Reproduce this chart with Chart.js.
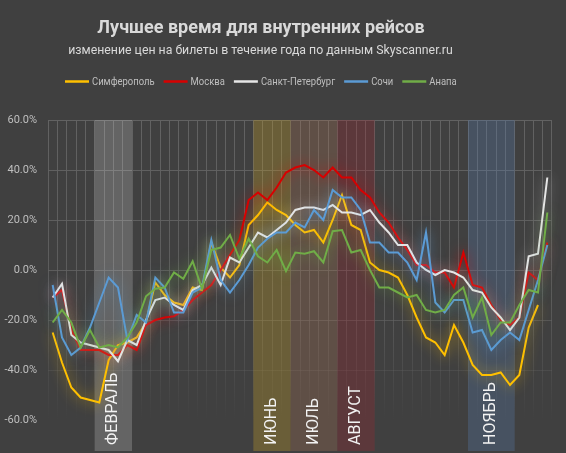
<!DOCTYPE html>
<html>
<head>
<meta charset="utf-8">
<script src="https://cdn.jsdelivr.net/npm/chart.js@4"></script>
<style>
    html, body { margin: 0; padding: 0; background: #404040; }
    canvas { display: block; }
</style>
</head>
<body>
<canvas id="flightsChart" width="566" height="453"></canvas>
<script>
// Weeks of the year (category axis, labels hidden)
const weeks = ["1", "2", "3", "4", "5", "6", "7", "8", "9", "10",
    "11", "12", "13", "14", "15", "16", "17", "18", "19", "20",
    "21", "22", "23", "24", "25", "26", "27", "28", "29", "30",
    "31", "32", "33", "34", "35", "36", "37", "38", "39", "40",
    "41", "42", "43", "44", "45", "46", "47", "48", "49", "50",
    "51", "52", "53", "54"];

// Price change, %
const simferopol = [-25, -37, -47, -51, -52, -53, -36, -30, -29, -27,
    -21, -5, -10, -13, -14, -7, -8, 11, 1, -3,
    2, 18, 22, 27, 24, 22, 18, 15, 16, 11,
    20, 30, 18, 16, 3, 0, -1, -3, -10, -19,
    -27, -29, -34, -22, -29, -38, -42, -42, -41, -46,
    -42, -23, -14, null];
const moscow = [-11, -8, -24, -32, -32, -32, -34, -34, -30, -32,
    -22, -20, -19, -18.5, -16, -12, -9, -6, 0, 6,
    12, 28, 31, 28, 33, 39, 41, 42, 40, 37,
    41, 37, 37, 32, 29, 23, 19, 13, 8, 2,
    2, -1, -1, -7, 7, -6, -7, -14, -20, -22,
    -19, -1, -4, 11];
const spb = [-11, -5.5, -26, -29, -30, -31, -32, -36.5, -28, -30,
    -20, -12, -11, -14, -16, -8, -6, 1, -6, 5,
    3, 9, 15, 13, 16, 19, 24, 25, 25, 24,
    26, 23, 23, 22, 24, 19, 15, 10, 10, 3,
    0, -2, 0, -1, -3, -8, -9, -15, -19, -24,
    -19, 5.5, 6.5, 37];
const sochi = [-6, -27, -34, -31, -23, -13, -3, -7, -28, -18,
    -21, -3, -7, -17, -17, -9, -7, 12, -4, -9,
    -4, 2, 9, 12.5, 15, 15, 19, 17, 24, 20,
    32, 29, 29, 24, 11, 11, 7, 7, 3, -4,
    15, -13, -17, -12, -12, -25, -24, -32, -28, -25,
    -28, -16, -4, 10];
const anapa = [-21, -16, -21, -31, -24, -31, -30, -31, -27, -21,
    -10.5, -7.5, -7, -1, -3.5, 3.5, -7.5, 8, 9, 14,
    4.5, 12.5, 5.5, 3, 8, -0.5, 7, 6.5, 7.5, 3,
    15.5, 16, 7, 8, 0, -7, -7, -9, -11, -10,
    -16, -17, -16, -10, -7, -19, -11, -26, -21, -21,
    -14, -8, -9, 23];

const seriesNames = ["Симферополь", "Москва", "Санкт-Петербург", "Сочи", "Анапа"];
const seriesColors = ["#FFC000", "#D80000", "#E6E6E6", "#5B9BD5", "#70AD47"];
const glowColors = ["rgba(255,192,0,0.8)", "rgba(230,0,0,0.8)", "rgba(235,235,235,0.7)",
    "rgba(91,155,213,0.8)", "rgba(112,173,71,0.8)"];

// Highlighted months: first and last week index of each band
const bandLabels = ["ФЕВРАЛЬ", "ИЮНЬ", "ИЮЛЬ", "АВГУСТ", "НОЯБРЬ"];
const bandFirst = [5, 22, 26, 31, 45];
const bandLast = [8, 25, 30, 34, 49];
const bandColors = ["rgba(255,255,255,0.19)", "rgba(200,160,40,0.31)", "rgba(170,115,85,0.3)",
    "rgba(160,40,50,0.3)", "rgba(90,125,175,0.3)"];

const yTicks = [-60, -40, -20, 0, 20, 40, 60];

const titleText = "Лучшее время для внутренних рейсов";
const subtitleText = "изменение цен на билеты в течение года по данным Skyscanner.ru";

const FONT = "Roboto, 'Liberation Sans', sans-serif";

// background fill
const bgPlugin = {
    id: "bg",
    beforeDraw(chart) {
        const ctx = chart.ctx;
        ctx.save();
        ctx.fillStyle = "#404040";
        ctx.fillRect(0, 0, chart.width, chart.height);
        ctx.restore();
    }
};

// title, subtitle and legend (header sits a bit left of the canvas centre, like the original)
const headerPlugin = {
    id: "header",
    afterDraw(chart) {
        const ctx = chart.ctx;
        ctx.save();
        ctx.textBaseline = "middle";
        ctx.textAlign = "center";
        ctx.fillStyle = "#D9D9D9";
        ctx.font = "bold 18px " + FONT;
        ctx.fillText(titleText, 261, 28);
        ctx.font = "12.3px " + FONT;
        ctx.fillText(subtitleText, 260.5, 50.5);

        // legend, text squeezed a little to match the narrow original font
        ctx.textAlign = "left";
        ctx.font = "11px " + FONT;
        const squeeze = 0.86;
        let x = 65;
        chart.data.datasets.forEach(ds => {
            ctx.strokeStyle = ds.borderColor;
            ctx.lineWidth = 2.5;
            ctx.beginPath();
            ctx.moveTo(x, 81.5);
            ctx.lineTo(x + 24, 81.5);
            ctx.stroke();
            ctx.fillStyle = "#BFBFBF";
            ctx.save();
            ctx.translate(x + 27, 82);
            ctx.scale(squeeze, 1);
            ctx.fillText(ds.label, 0, 0);
            ctx.restore();
            x += 27 + ctx.measureText(ds.label).width * squeeze + 9;
        });
        ctx.restore();
    }
};

// month bands behind the lines, labels on top
const bandPlugin = {
    id: "bands",
    beforeDatasetsDraw(chart) {
        const ctx = chart.ctx;
        const x = chart.scales.x;
        const half = (x.getPixelForValue(1) - x.getPixelForValue(0)) / 2;
        const top = chart.chartArea.top;
        const bottom = chart.height - 2;
        ctx.save();
        bandLabels.forEach((label, i) => {
            const x1 = x.getPixelForValue(bandFirst[i]) - half;
            const x2 = x.getPixelForValue(bandLast[i]) + half;
            ctx.fillStyle = bandColors[i];
            ctx.fillRect(x1, top, x2 - x1, bottom - top);
        });
        ctx.restore();
    },
    afterDatasetsDraw(chart) {
        const ctx = chart.ctx;
        const x = chart.scales.x;
        ctx.save();
        ctx.fillStyle = "#F2F2F2";
        ctx.font = "16px " + FONT;
        ctx.textAlign = "left";
        ctx.textBaseline = "middle";
        bandLabels.forEach((label, i) => {
            const cx = (x.getPixelForValue(bandFirst[i]) + x.getPixelForValue(bandLast[i])) / 2;
            ctx.save();
            ctx.translate(cx, chart.height - 8);
            ctx.rotate(-Math.PI / 2);
            ctx.fillText(label, 0, 0);
            ctx.restore();
        });
        ctx.restore();
    }
};

// soft glow around each line
const glowPlugin = {
    id: "glow",
    beforeDatasetDraw(chart, args) {
        const ctx = chart.ctx;
        ctx.save();
        ctx.shadowColor = glowColors[args.index];
        ctx.shadowBlur = 13;
    },
    afterDatasetDraw(chart) {
        chart.ctx.restore();
    }
};

function gridGradient(context) {
    const chart = context.chart;
    const area = chart.chartArea;
    if (!area) return "#5A5A5A";
    const g = chart.ctx.createLinearGradient(0, area.top, 0, area.bottom);
    g.addColorStop(0, "rgba(98,98,98,1)");
    g.addColorStop(0.6, "rgba(98,98,98,0.8)");
    g.addColorStop(1, "rgba(98,98,98,0)");
    return g;
}

const allSeries = [simferopol, moscow, spb, sochi, anapa];

const ctxChart = document.getElementById("flightsChart").getContext("2d");
new Chart(ctxChart, {
    type: "line",
    data: {
        labels: weeks,
        datasets: allSeries.map((values, i) => ({
            label: seriesNames[i],
            data: values,
            borderColor: seriesColors[i],
            backgroundColor: seriesColors[i],
            borderWidth: 2,
            pointRadius: 0,
            tension: 0,
            fill: false,
            clip: false,
            order: allSeries.length - i,
        }))
    },
    options: {
        responsive: false,
        animation: false,
        layout: {
            padding: { left: 4, right: 14, bottom: 33, top: 120 }
        },
        plugins: {
            title: { display: false },
            legend: { display: false },
            tooltip: { enabled: false },
        },
        scales: {
            x: {
                offset: true,
                grid: {
                    offset: true,
                    color: gridGradient,
                    drawTicks: false,
                },
                border: { display: false },
                ticks: { display: false },
            },
            y: {
                min: -60,
                max: 60,
                afterBuildTicks(scale) {
                    scale.ticks = yTicks.map(v => ({ value: v }));
                },
                afterFit(scale) {
                    scale.width = 44;
                },
                grid: {
                    color: gridGradient,
                    drawTicks: false,
                },
                border: { display: false },
                ticks: {
                    color: "#BFBFBF",
                    font: { family: FONT, size: 11 },
                    padding: 11,
                    callback: value => value.toFixed(1) + "%",
                },
            },
        },
    },
    plugins: [bgPlugin, bandPlugin, glowPlugin, headerPlugin],
});
</script>
</body>
</html>
